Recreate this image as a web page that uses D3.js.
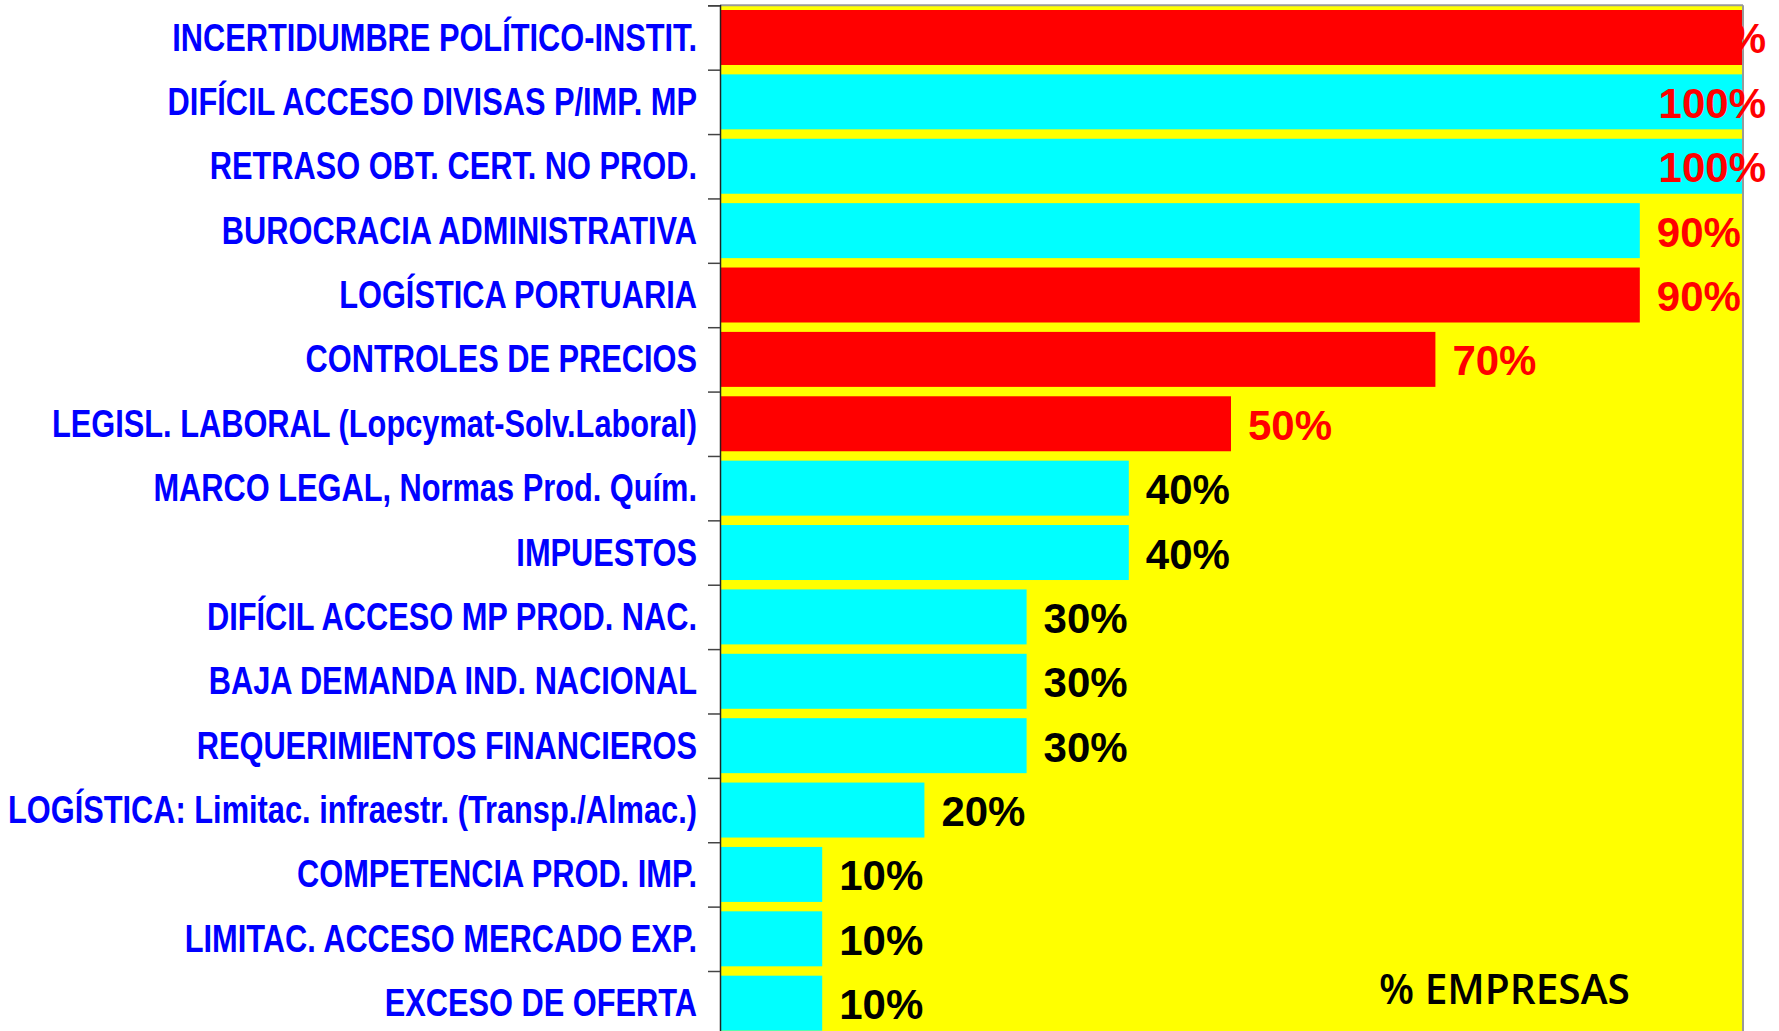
<!DOCTYPE html>
<html>
<head>
<meta charset="utf-8">
<script src="https://cdn.jsdelivr.net/npm/d3@7"></script>
<style>
  html, body { margin: 0; padding: 0; background: #ffffff; }
  svg { display: block; }
</style>
</head>
<body>
<svg id="chart" width="1779" height="1031"></svg>
<script>
// ---------- data ----------
const categories = [
  "INCERTIDUMBRE POLÍTICO-INSTIT.",
  "DIFÍCIL ACCESO DIVISAS P/IMP. MP",
  "RETRASO OBT. CERT. NO PROD.",
  "BUROCRACIA ADMINISTRATIVA",
  "LOGÍSTICA PORTUARIA",
  "CONTROLES DE PRECIOS",
  "LEGISL. LABORAL (Lopcymat-Solv.Laboral)",
  "MARCO LEGAL, Normas Prod. Quím.",
  "IMPUESTOS",
  "DIFÍCIL ACCESO MP PROD. NAC.",
  "BAJA DEMANDA IND. NACIONAL",
  "REQUERIMIENTOS FINANCIEROS",
  "LOGÍSTICA: Limitac. infraestr. (Transp./Almac.)",
  "COMPETENCIA PROD. IMP.",
  "LIMITAC. ACCESO MERCADO EXP.",
  "EXCESO DE OFERTA"
];
const values = [100, 100, 100, 90, 90, 70, 50, 40, 40, 30, 30, 30, 20, 10, 10, 10];
// group of each bar (drives bar colour)
const barGroup = ["A", "B", "B", "B", "A", "A", "A", "B", "B", "B", "B", "B", "B", "B", "B", "B"];
// group of each value label (drives label colour)
const labelGroup = ["A", "A", "A", "A", "A", "A", "A", "B", "B", "B", "B", "B", "B", "B", "B", "B"];
const xDomain = [0, 100];
const axisTitle = "% EMPRESAS";

// ---------- layout ----------
const svg = d3.select("#chart");
const plot = { left: 720, right: 1742, top: 5.3, step: 64.38 };
plot.bottom = plot.top + plot.step * categories.length;

const x = d3.scaleLinear().domain(xDomain).range([plot.left, plot.right]);
const y = d3.scaleBand().domain(categories).range([plot.top, plot.bottom])
  .paddingInner(0.146).paddingOuter(0.073);
const yEdges = d3.scaleLinear().domain([0, categories.length]).range([plot.top, plot.bottom]);

const barColor = d3.scaleOrdinal().domain(["A", "B"]).range(["#ff0000", "#00ffff"]);
const labelColor = d3.scaleOrdinal().domain(["A", "B"]).range(["#ff0000", "#000000"]);

svg.append("rect").attr("width", 1779).attr("height", 1031).attr("fill", "#ffffff");

// plot background
svg.append("rect")
  .attr("x", plot.left).attr("y", plot.top)
  .attr("width", plot.right - plot.left).attr("height", plot.bottom - plot.top)
  .attr("fill", "#ffff00");

// border top / right
svg.append("line").attr("x1", plot.left).attr("x2", plot.right + 1)
  .attr("y1", plot.top).attr("y2", plot.top)
  .attr("stroke", "#999999").attr("stroke-width", 2);
svg.append("line").attr("x1", plot.right + 1).attr("x2", plot.right + 1)
  .attr("y1", plot.top).attr("y2", plot.bottom)
  .attr("stroke", "#999999").attr("stroke-width", 2);

// bars
svg.append("g").selectAll("rect").data(categories).join("rect")
  .attr("x", x(0) + 1)
  .attr("y", d => y(d))
  .attr("width", (d, i) => x(values[i]) - x(0) - 1)
  .attr("height", y.bandwidth())
  .attr("fill", (d, i) => barColor(barGroup[i]));

// boundary ticks + axis line
const edgeAxis = svg.append("g")
  .attr("transform", `translate(${plot.left},0)`)
  .call(d3.axisLeft(yEdges).ticks(categories.length).tickValues(d3.range(categories.length + 1))
    .tickSize(12).tickFormat(""));
edgeAxis.select(".domain").attr("stroke", "#222").attr("stroke-width", 1.5);
edgeAxis.selectAll(".tick line").attr("stroke", "#444").attr("stroke-width", 1.5);

// category labels
const catAxis = svg.append("g")
  .attr("transform", `translate(${plot.left},0)`)
  .call(d3.axisLeft(y).tickSize(0).tickPadding(0));
catAxis.select(".domain").remove();
const catText = catAxis.selectAll(".tick text")
  .attr("x", 0).attr("dy", null).attr("y", 13)
  .attr("fill", "#0000ff")
  .style("font-family", "'Liberation Sans Narrow', 'Arial Narrow', 'Liberation Sans', Arial, sans-serif")
  .style("font-weight", "bold")
  .style("font-size", "38px");
// normalise horizontal width to the narrow face of the original
const refNode = catText.filter(d => d === categories[0]).node();
const refW = refNode.getComputedTextLength();
const sx = 525 / refW;
catText.attr("transform", `translate(-23,0) scale(${sx},1)`);

// value labels
const chartRight = 1766;
svg.append("g").selectAll("text").data(categories).join("text")
  .attr("y", d => y(d) + y.bandwidth() / 2 + 16)
  .attr("fill", (d, i) => labelColor(labelGroup[i]))
  .style("font-family", "'Liberation Sans', Arial, sans-serif")
  .style("font-weight", "bold")
  .style("font-size", "42px")
  .text((d, i) => values[i] + "%")
  .attr("x", function (d, i) {
    const w = this.getComputedTextLength();
    return Math.min(x(values[i]) + 17, chartRight - w);
  });

// axis title
const title = svg.append("text")
  .attr("x", 1379).attr("y", 1004)
  .attr("fill", "#000")
  .style("font-family", "'Open Sans', 'Noto Sans', sans-serif")
  .style("font-weight", 600)
  .style("font-size", "42px")
  .text(axisTitle);
const tw = title.node().getComputedTextLength();
title.style("font-size", (42 * 251 / tw) + "px");
</script>
</body>
</html>
